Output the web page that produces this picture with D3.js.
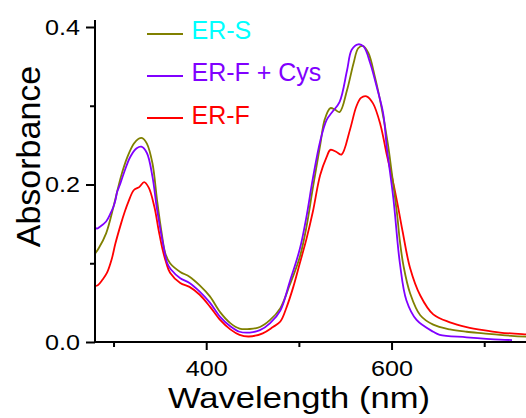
<!DOCTYPE html>
<html><head><meta charset="utf-8">
<script src="https://cdn.jsdelivr.net/npm/d3@7"></script>
<style>
body{margin:0;background:#fff}
svg{display:block}
text{font-family:"Liberation Sans",Arial,sans-serif}
</style>
</head><body>
<script>
// ---- data ----
const seriesNames = ["ER-S", "ER-F + Cys", "ER-F"];
const lineColors = ["#808000", "#8000FF", "#FF0000"];
const labelColors = ["#00FFFF", "#8000FF", "#FF0000"];

const wavelengthS = [280,284,292,300,308,315,322,327,331,336,342,347,352,356,361,372,382,393,404,415,426,436,447,458,469,480,490,501,508,515,523,528,534,539,544,552,559,564,569,575,582,589,596,600,606,609,613,620,631,645,663,681,699,717,745,750];
const absS        = [0.112,0.119,0.138,0.172,0.21,0.235,0.252,0.258,0.259,0.252,0.227,0.18,0.138,0.112,0.100,0.089,0.083,0.072,0.058,0.038,0.024,0.017,0.0165,0.019,0.028,0.043,0.072,0.108,0.145,0.195,0.25,0.283,0.297,0.295,0.292,0.32,0.354,0.373,0.376,0.367,0.337,0.299,0.252,0.217,0.162,0.128,0.096,0.062,0.034,0.022,0.016,0.013,0.011,0.009,0.0067,0.0065];

const wavelengthFC = [280,282,285,292,297,300,302,304,307,311,318,325,330,336,342,347,354,358,362,372,382,393,404,415,426,436,447,458,469,480,490,501,508,515,523,530,536,544,552,557,564,570,577,584,591,595,602,609,616,627,645,652,681,717,730];
const absFC        = [0.146,0.144,0.146,0.153,0.164,0.172,0.180,0.191,0.200,0.214,0.235,0.246,0.248,0.240,0.21,0.168,0.121,0.100,0.092,0.081,0.075,0.064,0.050,0.032,0.020,0.013,0.012,0.015,0.024,0.040,0.076,0.118,0.158,0.207,0.255,0.282,0.292,0.305,0.345,0.371,0.378,0.375,0.354,0.324,0.290,0.246,0.182,0.10,0.053,0.028,0.013,0.009,0.006,0.003,0.0025];

const wavelengthF = [280,283,288,293,298,302,308,312,316,322,328,333,338,344,349,353,357,361,372,382,393,404,415,426,436,446,461,472,480,487,494,501,508,515,523,530,534,541,546,555,562,567,573,580,588,595,600,606,612,620,631,645,663,681,699,717,745,750];
const absF        = [0.071,0.072,0.079,0.088,0.105,0.125,0.150,0.165,0.178,0.193,0.197,0.203,0.196,0.172,0.140,0.117,0.100,0.088,0.075,0.070,0.060,0.045,0.028,0.016,0.009,0.007,0.011,0.019,0.026,0.045,0.070,0.100,0.130,0.165,0.212,0.235,0.244,0.241,0.238,0.269,0.299,0.31,0.312,0.303,0.276,0.237,0.212,0.178,0.140,0.094,0.059,0.035,0.025,0.019,0.015,0.012,0.0098,0.0095];

const xTicksMajor = [400, 600];
const xTicksMinor = [300, 500, 700];
const yTicksMajor = [0.0, 0.2, 0.4];
const yTicksMinor = [0.1, 0.3];
const xTitle = "Wavelength (nm)";
const yTitle = "Absorbance";

// ---- chart ----
const W = 526, H = 418;
const svg = d3.select("body").append("svg").attr("width", W).attr("height", H);

const x = d3.scaleLinear().domain([280, 750]).range([95, 95 + 470 * 0.9267]);
const y = d3.scaleLinear().domain([0, 0.4]).range([342, 27]);

const series = [
  wavelengthS.map((w, i) => [w, absS[i]]),
  wavelengthFC.map((w, i) => [w, absFC[i]]),
  wavelengthF.map((w, i) => [w, absF[i]])
];

svg.append("clipPath").attr("id", "clip").append("rect")
  .attr("x", 95).attr("y", 0).attr("width", W - 95).attr("height", 342);

const line = d3.line().x(d => x(d[0])).y(d => y(d[1])).curve(d3.curveCatmullRom.alpha(0.5));

const plot = svg.append("g").attr("clip-path", "url(#clip)");
[2, 0, 1].forEach(i => {
  plot.append("path").datum(series[i])
    .attr("d", line).attr("fill", "none")
    .attr("stroke", lineColors[i]).attr("stroke-width", 1.8)
    .attr("stroke-linejoin", "round");
});

// y axis
const yMajor = svg.append("g").attr("transform", "translate(95,0)")
  .call(d3.axisLeft(y).tickValues(yTicksMajor).tickSize(9).tickPadding(6).tickFormat(d3.format(".1f")));
const yMinor = svg.append("g").attr("transform", "translate(95,0)")
  .call(d3.axisLeft(y).tickValues(yTicksMinor).tickSize(5).tickFormat(""));
// x axis
const xMajor = svg.append("g").attr("transform", "translate(0,342)")
  .call(d3.axisBottom(x).tickValues(xTicksMajor).tickSize(8).tickPadding(10).tickFormat(d3.format("d")));
const xMinor = svg.append("g").attr("transform", "translate(0,342)")
  .call(d3.axisBottom(x).tickValues(xTicksMinor).tickSize(5).tickFormat(""));

[yMajor, yMinor, xMajor, xMinor].forEach(g => {
  g.select(".domain").remove();
  g.selectAll(".tick line").attr("stroke", "#000").attr("stroke-width", 2);
});
yMajor.selectAll(".tick text").attr("font-size", 22).attr("fill", "#000")
  .attr("font-family", '"Liberation Sans",Arial,sans-serif')
  .attr("textLength", 35).attr("lengthAdjust", "spacingAndGlyphs");
xMajor.selectAll(".tick text").attr("font-size", 22).attr("fill", "#000")
  .attr("font-family", '"Liberation Sans",Arial,sans-serif')
  .attr("textLength", 42).attr("lengthAdjust", "spacingAndGlyphs");

// axis lines
svg.append("line").attr("x1", 95).attr("x2", 95).attr("y1", 20).attr("y2", 343)
  .attr("stroke", "#000").attr("stroke-width", 2);
svg.append("line").attr("x1", 94).attr("x2", W).attr("y1", 342).attr("y2", 342)
  .attr("stroke", "#000").attr("stroke-width", 2);

// titles
svg.append("text").attr("x", 299).attr("y", 408).attr("text-anchor", "middle")
  .attr("font-size", 30).attr("textLength", 262).attr("lengthAdjust", "spacingAndGlyphs")
  .attr("fill", "#000").text(xTitle);
svg.append("text").attr("transform", "translate(40,156.5) rotate(-90)")
  .attr("text-anchor", "middle").attr("font-size", 34).attr("fill", "#000").text(yTitle);

// legend
const legendY = [34, 76, 118];
const legendBase = [38.5, 81, 124];
seriesNames.forEach((name, i) => {
  svg.append("line").attr("x1", 147).attr("x2", 183).attr("y1", legendY[i]).attr("y2", legendY[i])
    .attr("stroke", lineColors[i]).attr("stroke-width", 1.8);
  svg.append("text").attr("x", 191.5).attr("y", legendBase[i]).attr("font-size", 25)
    .attr("fill", labelColors[i]).text(name);
});
</script>
</body></html>
